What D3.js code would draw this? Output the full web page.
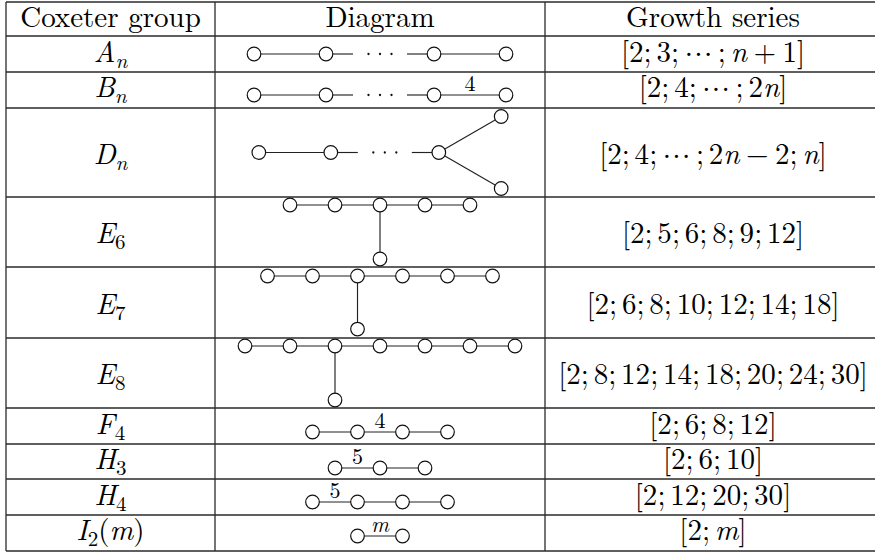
<!DOCTYPE html>
<html><head><meta charset="utf-8">
<script src="https://cdn.jsdelivr.net/npm/d3@7"></script>
<style>
body{margin:0;background:#fff}
svg{display:block}
</style>
</head><body>
<svg id="c" width="875" height="554"></svg>
<script>
// ---------- data ----------
const headers = ["Coxeter group", "Diagram", "Growth series"];
const groupLetters = ["A", "B", "D", "E", "E", "E", "F", "H", "H", "I"];
const groupSubs    = ["n", "n", "n", "6", "7", "8", "4", "3", "4", "2"];
const groupSuffix  = ["", "", "", "", "", "", "", "", "", "(m)"];
const seriesTerms = [
  ["2", "3", "⋯", "n + 1"],
  ["2", "4", "⋯", "2n"],
  ["2", "4", "⋯", "2n − 2", "n"],
  ["2", "5", "6", "8", "9", "12"],
  ["2", "6", "8", "10", "12", "14", "18"],
  ["2", "8", "12", "14", "18", "20", "24", "30"],
  ["2", "6", "8", "12"],
  ["2", "6", "10"],
  ["2", "12", "20", "30"],
  ["2", "m"]
];
// diagram nodes in abstract units (x along chain, y downward)
const diagramNodes = [
  [[0,0],[1,0],[2.5,0],[3.5,0]],
  [[0,0],[1,0],[2.5,0],[3.5,0]],
  [[0,0],[1,0],[2.5,0],[3.366,-0.5],[3.366,0.5]],
  [[0,0],[1,0],[2,0],[3,0],[4,0],[2,1.2]],
  [[0,0],[1,0],[2,0],[3,0],[4,0],[5,0],[2,1.18]],
  [[0,0],[1,0],[2,0],[3,0],[4,0],[5,0],[6,0],[2,1.2]],
  [[0,0],[1,0],[2,0],[3,0]],
  [[0,0],[1,0],[2,0]],
  [[0,0],[1,0],[2,0],[3,0]],
  [[0,0],[1,0]]
];
const diagramEdges = [
  [[0,1],[2,3]],
  [[0,1],[2,3]],
  [[0,1],[2,3],[2,4]],
  [[0,1],[1,2],[2,3],[3,4],[2,5]],
  [[0,1],[1,2],[2,3],[3,4],[4,5],[2,6]],
  [[0,1],[1,2],[2,3],[3,4],[4,5],[5,6],[2,7]],
  [[0,1],[1,2],[2,3]],
  [[0,1],[1,2]],
  [[0,1],[1,2],[2,3]],
  [[0,1]]
];
const diagramGaps = [[[1,2]],[[1,2]],[[1,2]],[],[],[],[],[],[],[]];
const diagramLabels = [
  [], [[2,3,"4"]], [], [], [], [], [[1,2,"4"]], [[0,1,"5"]], [[0,1,"5"]], [[0,1,"m"]]
];

// ---------- layout ----------
const FONT = '"Latin Modern Roman", "Liberation Serif", serif';
const rowEdges = [2, 36, 72, 108, 197, 267, 338, 408, 444, 479, 515, 551];
const colEdges = [6, 215, 545, 881];
const units    = [72, 72, 72, 45, 45, 45, 45, 45, 45, 45];
const chainOff = [18, 23, 44.5, 8, 9, 8, 24, 24, 23, 21];
const baseOff  = [25.5, 25, 0, 0, 0, 0, 26, 25, 26, 25];
const tallRow  = [false, false, true, true, true, true, false, false, false, false];

const svg = d3.select("#c");
const FS = 29, SUB = 21, LAB = 22;
const THIN = FS * 0.167, MED = FS * 0.222;

const colX = d3.scaleOrdinal().domain([0,1,2]).range([0,1,2].map(i => (colEdges[i] + colEdges[i+1]) / 2));

// table lines
svg.append("g").selectAll("line").data(rowEdges).join("line")
  .attr("x1", colEdges[0]).attr("x2", colEdges[3])
  .attr("y1", d => d).attr("y2", d => d)
  .attr("stroke", "#2a2a2a").attr("stroke-width", 1.3);
svg.append("g").selectAll("line").data(colEdges).join("line")
  .attr("x1", d => d).attr("x2", d => d)
  .attr("y1", rowEdges[0]).attr("y2", rowEdges[rowEdges.length-1])
  .attr("stroke", "#2a2a2a").attr("stroke-width", 1.3);

// headers
svg.append("g").selectAll("text").data(headers).join("text")
  .attr("x", (d,i) => colX(i)).attr("y", 27)
  .attr("text-anchor", "middle").attr("font-size", FS)
  .style("font-family", FONT).text(d => d);

function baseline(r) {
  const top = rowEdges[r+1], bot = rowEdges[r+2];
  return tallRow[r] ? (top + bot) / 2 + 11 : top + baseOff[r];
}

// append a math term: letters italic, binary operators with medium spaces
function addMath(t, s, firstDx) {
  const toks = s.split(" ");
  let pending = firstDx;
  toks.forEach(tok => {
    if (tok === "+" || tok === "−") {
      t.append("tspan").attr("dx", MED).text(tok);
      pending = MED;
      return;
    }
    const parts = tok.match(/[a-z]+|[^a-z]+/g);
    parts.forEach(p => {
      const ts = t.append("tspan").text(p);
      if (/^[a-z]+$/.test(p)) ts.style("font-style", "italic");
      if (pending) { ts.attr("dx", pending); pending = 0; }
    });
  });
}

const rows = d3.range(groupLetters.length);

rows.forEach(r => {
  const y = baseline(r);
  // group name
  const t = svg.append("text").attr("x", colX(0)).attr("y", y)
    .attr("text-anchor", "middle").attr("font-size", FS).style("font-family", FONT);
  t.append("tspan").style("font-style", "italic").text(groupLetters[r]);
  const sub = groupSubs[r];
  t.append("tspan").attr("font-size", SUB).attr("dy", 6)
    .style("font-style", /[a-z]/.test(sub) ? "italic" : "normal").text(sub);
  if (groupSuffix[r]) {
    t.append("tspan").attr("dy", -6).text("(");
    t.append("tspan").style("font-style", "italic").text("m");
    t.append("tspan").text(")");
  }

  // growth series
  const s = svg.append("text").attr("x", colX(2)).attr("y", y)
    .attr("text-anchor", "middle").attr("font-size", FS).style("font-family", FONT);
  s.append("tspan").text("[");
  seriesTerms[r].forEach((term, k) => {
    if (k > 0) {
      const prev = seriesTerms[r][k-1];
      s.append("tspan").attr("dx", prev === "⋯" ? THIN : 0).text(";");
    }
    if (term === "⋯") {
      s.append("tspan").attr("dx", THIN).style("font-family", '"FreeSerif", serif').text("⋯");
    } else {
      addMath(s, term, k > 0 ? THIN : 0);
    }
  });
  s.append("tspan").text("]");

  // diagram
  const nodes = diagramNodes[r];
  const u = units[r];
  const ext = d3.extent(nodes, d => d[0]);
  const cx = colX(1);
  const half = (ext[1] - ext[0]) * u / 2;
  const xs = d3.scaleLinear().domain(ext).range([cx - half, cx + half]);
  const cy = rowEdges[r+1] + chainOff[r];
  const ys = d3.scaleLinear().domain([0, 1]).range([cy, cy + u]);
  const g = svg.append("g");

  g.selectAll("line.e").data(diagramEdges[r]).join("line")
    .attr("x1", d => xs(nodes[d[0]][0])).attr("y1", d => ys(nodes[d[0]][1]))
    .attr("x2", d => xs(nodes[d[1]][0])).attr("y2", d => ys(nodes[d[1]][1]))
    .attr("stroke", "#222").attr("stroke-width", 1.15);

  diagramGaps[r].forEach(([a, b]) => {
    const xa = xs(nodes[a][0]), xb = xs(nodes[b][0]), yy = ys(0);
    g.append("line").attr("x1", xa).attr("x2", xa + 27).attr("y1", yy).attr("y2", yy)
      .attr("stroke", "#222").attr("stroke-width", 1.15);
    g.append("line").attr("x1", xb - 27).attr("x2", xb).attr("y1", yy).attr("y2", yy)
      .attr("stroke", "#222").attr("stroke-width", 1.15);
    const mid = (xa + xb) / 2;
    g.selectAll("circle.dot").data([-11.5, 0, 11.5]).join("circle")
      .attr("cx", d => mid + d).attr("cy", yy).attr("r", 1.15).attr("fill", "#111");
  });

  g.selectAll("circle.n").data(nodes).join("circle")
    .attr("cx", d => xs(d[0])).attr("cy", d => ys(d[1])).attr("r", 6.8)
    .attr("fill", "#fff").attr("stroke", "#111").attr("stroke-width", 1.2);

  g.selectAll("text").data(diagramLabels[r]).join("text")
    .attr("x", d => (xs(nodes[d[0]][0]) + xs(nodes[d[1]][0])) / 2)
    .attr("y", ys(0) - 4)
    .attr("text-anchor", "middle").attr("font-size", LAB)
    .style("font-family", FONT)
    .style("font-style", d => /[a-z]/.test(d[2]) ? "italic" : "normal")
    .text(d => d[2]);
});
</script>
</body></html>
